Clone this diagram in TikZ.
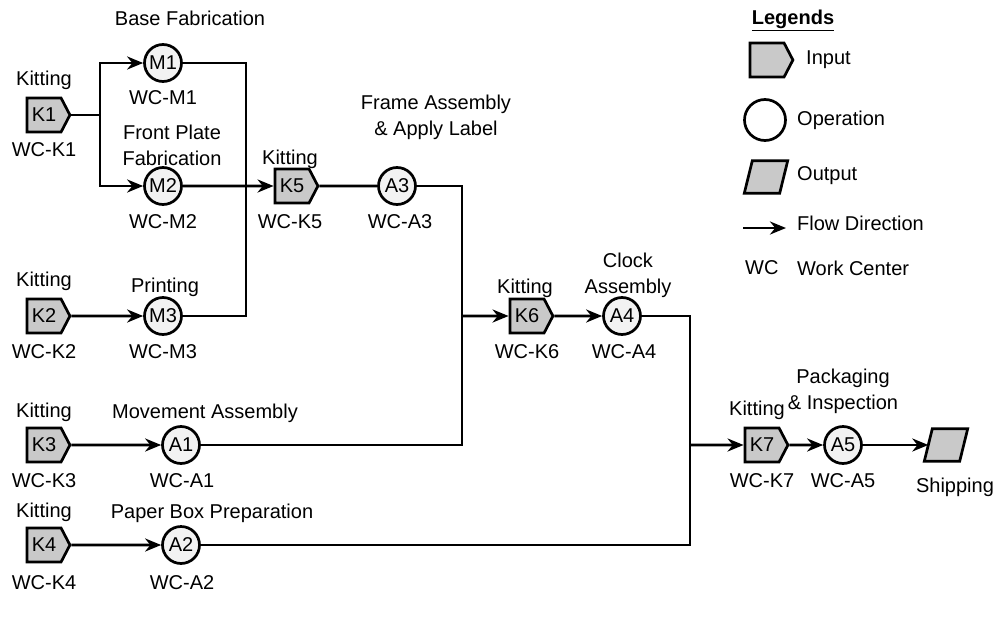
\documentclass[tikz,border=0pt]{standalone}
\usepackage{fontspec}
\setmainfont{Liberation Sans}
\usetikzlibrary{shapes.symbols,shapes.geometric,arrows.meta}
\begin{document}
\begin{tikzpicture}[x=1pt,y=-1pt,
  font=\fontsize{20}{26}\selectfont,
  inbox/.style={shape=signal, signal to=east, signal pointer angle=125, draw, line width=2.7pt, fill=gray!42, minimum width=43pt, minimum height=34pt, inner sep=1pt},
  op/.style={circle, draw, line width=2.7pt, fill=gray!10, minimum size=37pt, inner sep=0pt},
  outbox/.style={rectangle, minimum width=35pt, minimum height=32pt, inner sep=0pt},
  para/.style={draw, line width=2.7pt, fill=gray!42, line join=miter},
  lbl/.style={inner sep=0pt, align=center},
  leg/.style={inner sep=0pt, anchor=west},
  flow/.style={line width=2.9pt},
  arr/.style={flow, -{Stealth[length=16pt,width=13pt]}}]
\useasboundingbox (0,0) rectangle (997,627);

% nodes
\node[inbox] (K1) at (44,115) {K1};
\node[op] (M1) at (163,63) {M1};
\node[op] (M2) at (163,186) {M2};
\node[inbox] (K2) at (44,316) {K2};
\node[op] (M3) at (163,316) {M3};
\node[inbox] (K5) at (292,186) {K5};
\node[op] (A3) at (397,186) {A3};
\node[inbox] (K3) at (44,445) {K3};
\node[op] (A1) at (181,445) {A1};
\node[inbox] (K6) at (527,316) {K6};
\node[op] (A4) at (622,316) {A4};
\node[inbox] (K4) at (44,545) {K4};
\node[op] (A2) at (181,545) {A2};
\node[inbox] (K7) at (762,445) {K7};
\node[op] (A5) at (843,445) {A5};
\node[outbox] (SH) at (946,445) {};
\draw[para] ([xshift=-4pt]SH.south west) -- ([xshift=-4pt]SH.south east) -- ([xshift=4pt]SH.north east) -- ([xshift=4pt]SH.north west) -- cycle;

% labels
\node[lbl] (tK1) at (44,80) {Kitting};
\node[lbl] (wK1) at (44,150) {WC-K1};
\node[lbl] (tM1) at (190,18) {Base Fabrication};
\node[lbl] (wM1) at (163,98) {WC-M1};
\node[lbl] (tM2) at (172,145) {Front Plate\\Fabrication};
\node[lbl] (wM2) at (163,222) {WC-M2};
\node[lbl] (tK2) at (44,281) {Kitting};
\node[lbl] (wK2) at (44,352) {WC-K2};
\node[lbl] (tM3) at (165,287) {Printing};
\node[lbl] (wM3) at (163,352) {WC-M3};
\node[lbl] (tK5) at (290,159) {Kitting};
\node[lbl] (wK5) at (290,222) {WC-K5};
\node[lbl] (tA3) at (436,117) {Frame Assembly\\\& Apply Label};
\node[lbl] (wA3) at (400,222) {WC-A3};
\node[lbl] (tK3) at (44,412) {Kitting};
\node[lbl] (wK3) at (44,481) {WC-K3};
\node[lbl] (tA1) at (205,413) {Movement Assembly};
\node[lbl] (wA1) at (182,481) {WC-A1};
\node[lbl] (tK6) at (525,288) {Kitting};
\node[lbl] (wK6) at (527,352) {WC-K6};
\node[lbl] (tA4) at (628,275) {Clock\\Assembly};
\node[lbl] (wA4) at (624,352) {WC-A4};
\node[lbl] (tK4) at (44,512) {Kitting};
\node[lbl] (wK4) at (44,583) {WC-K4};
\node[lbl] (tA2) at (212,513) {Paper Box Preparation};
\node[lbl] (wA2) at (182,583) {WC-A2};
\node[lbl] (tK7) at (757,410) {Kitting};
\node[lbl] (wK7) at (762,481) {WC-K7};
\node[lbl] (tA5) at (843,391) {Packaging\\\& Inspection};
\node[lbl] (wA5) at (843,481) {WC-A5};
\node[lbl] (tSH) at (955,487) {Shipping};

% connectors
\coordinate (jk1) at (100,115);
\draw[flow] (K1.east) -- (jk1);
\draw[arr] (jk1) |- (M1);
\draw[arr] (jk1) |- (M2);
\coordinate (jm) at (246,186);
\draw[flow] (M1) -| (jm);
\draw[flow] (M3) -| (jm);
\draw[arr] (K2) -- (M3);
\draw[arr] (M2) -- (K5);
\draw[flow] (K5) -- (A3);
\coordinate (ja) at (462,316);
\draw[flow] (A3) -| (ja);
\draw[flow] (A1) -| (ja);
\draw[arr] (K3) -- (A1);
\draw[arr] (ja) -- (K6);
\draw[arr] (K6) -- (A4);
\coordinate (jb) at (690,445);
\draw[flow] (A4) -| (jb);
\draw[flow] (A2) -| (jb);
\draw[arr] (K4) -- (A2);
\draw[arr] (jb) -- (K7);
\draw[arr] (K7) -- (A5);
\draw[arr] (A5) -- (SH);

% legend
\node[lbl] (lgT) at (793,20) {\textbf{\underline{Legends}}};
\node[inbox] (lgI) at (767,60) {};
\node[leg] (lgIt) at (806,60) {Input};
\node[op, fill=white, minimum size=41pt] (lgO) at (765,120) {};
\node[leg] (lgOt) at (797,120) {Operation};
\node[outbox] (lgU) at (766,177) {};
\draw[para] ([xshift=-4pt]lgU.south west) -- ([xshift=-4pt]lgU.south east) -- ([xshift=4pt]lgU.north east) -- ([xshift=4pt]lgU.north west) -- cycle;
\node[leg] (lgUt) at (797,176) {Output};
\coordinate (la1) at (743,228);
\coordinate (la2) at (786,228);
\draw[arr] (la1) -- (la2);
\node[leg] (lgFt) at (797,223) {Flow Direction};
\node[leg] (lgW) at (745,268) {WC};
\node[leg] (lgWt) at (797,268) {Work Center};
\end{tikzpicture}
\end{document}
